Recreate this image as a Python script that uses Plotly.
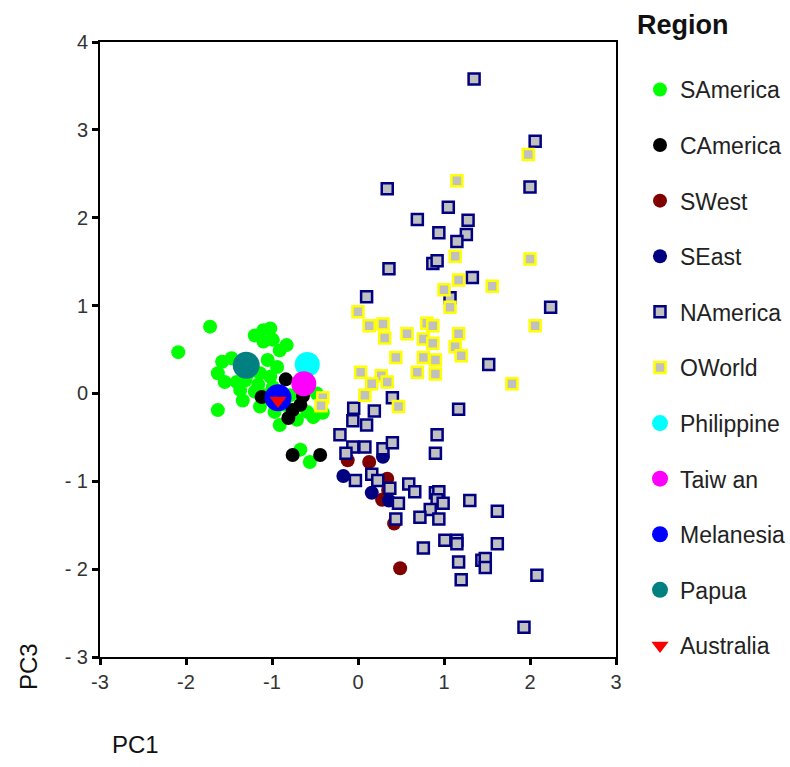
import plotly.graph_objects as go

# ---- data (PC1, PC3) ----
samerica_x = [-2.09, -1.72, -1.20, -1.10, -1.02, -0.99, -1.10, -0.83, -0.91, -1.58, -1.47, -1.05, -1.63, -1.55,
              -1.41, -1.34, -1.63, -1.14, -0.91, -0.59, -0.52, -1.14, -1.02, -0.99, -0.94, -1.28, -1.37, -0.48,
              -0.41, -0.71, -0.56, -0.67, -1.26, -1.20, -1.08, -0.85, -0.97, -0.79, -1.31, -1.16]
samerica_y = [0.47, 0.76, 0.66, 0.72, 0.74, 0.61, 0.59, 0.55, 0.49, 0.36, 0.40, 0.38, 0.23, 0.13,
              0.13, -0.08, -0.19, -0.15, -0.36, -0.21, -0.27, 0.23, 0.19, 0.07, 0.30, 0.23, 0.04, 0.00,
              -0.22, -0.30, -0.78, -0.64, 0.38, 0.02, -0.02, -0.13, -0.21, -0.02, 0.15, 0.10]

camerica_x = [-0.84, -1.12, -0.81, -0.67, -0.76, -0.64, -0.76, -0.44, -0.91]
camerica_y = [0.16, -0.04, -0.28, -0.13, -0.19, -0.03, -0.70, -0.70, -0.02]

swest_x = [-0.12, 0.13, 0.34, 0.35, 0.28, 0.42, 0.49]
swest_y = [-0.76, -0.78, -0.97, -1.10, -1.21, -1.48, -1.99]

seast_x = [0.29, -0.17, 0.16, 0.36]
seast_y = [-0.72, -0.94, -1.13, -1.22]

namerica_x = [1.35, 2.06, 2.00, 0.34, 1.05, 0.69, 1.28, 0.94, 1.26, 1.15, 0.87, 0.92, 0.36, 1.33, 0.10, 1.07,
              2.24, 1.52, 0.40, -0.05, 0.19, 1.17, -0.06, 0.10, -0.21, 0.92, -0.06, 0.08, 0.29, 0.40, -0.14,
              0.90, 0.16, -0.03, 0.23, 0.37, 0.59, 0.66, 0.47, 0.90, 0.94, 0.92, 0.99, 1.30, 1.62, 0.84, 0.72,
              0.94, 0.44, 1.01, 1.15, 1.15, 0.76, 1.62, 1.17, 1.44, 1.48, 1.48, 1.20, 2.08, 1.93]
namerica_y = [3.58, 2.87, 2.35, 2.33, 2.12, 1.98, 1.97, 1.83, 1.81, 1.73, 1.48, 1.51, 1.42, 1.32, 1.10, 1.09,
              0.98, 0.33, -0.05, -0.17, -0.20, -0.18, -0.31, -0.36, -0.47, -0.47, -0.61, -0.61, -0.63, -0.56, -0.68,
              -0.68, -0.92, -0.99, -0.99, -1.08, -1.03, -1.12, -1.25, -1.13, -1.12, -1.21, -1.25, -1.22, -1.34, -1.32, -1.41,
              -1.43, -1.43, -1.67, -1.67, -1.71, -1.76, -1.71, -1.92, -1.90, -1.88, -1.98, -2.12, -2.07, -2.66]

oworld_x = [1.98, 1.15, 1.13, 2.00, 1.17, 1.00, 1.56, 0.00, 0.13, 0.29, 0.31, 0.57, 0.80, 0.87, 1.07, 0.76,
            0.87, 1.17, 1.13, 1.20, 2.06, 0.44, 0.76, 0.90, 0.69, 0.90, 0.03, 0.27, 0.34, 0.16, 0.08, 0.47,
            1.79, -0.41, -0.43]
oworld_y = [2.72, 2.42, 1.56, 1.53, 1.29, 1.18, 1.22, 0.93, 0.77, 0.79, 0.63, 0.68, 0.80, 0.77, 0.98, 0.62,
            0.57, 0.68, 0.53, 0.43, 0.77, 0.41, 0.41, 0.38, 0.24, 0.22, 0.24, 0.20, 0.13, 0.11, -0.02, -0.15,
            0.11, -0.05, -0.14]

philippine_x, philippine_y = [-0.59], [0.33]
taiwan_x, taiwan_y = [-0.63], [0.11]
melanesia_x, melanesia_y = [-0.93], [-0.05]
papua_x, papua_y = [-1.30], [0.32]
australia_x, australia_y = [-0.93], [-0.08]

x_ticks = [-3, -2, -1, 0, 1, 2, 3]
x_tick_labels = ["-3", "-2", "-1", "0", "1", "2", "3"]
y_ticks = [-3, -2, -1, 0, 1, 2, 3, 4]
y_tick_labels = ["- 3", "- 2", "- 1", "0", "1", "2", "3", "4"]

# ---- figure ----
fig = go.Figure()

def add(name, xs, ys, symbol, size, color, line_color=None, line_width=0):
    fig.add_trace(go.Scatter(
        x=xs, y=ys, mode="markers", name=name, legendgroup=name,
        marker=dict(symbol=symbol, size=size, color=color,
                    line=dict(color=line_color or color, width=line_width)),
    ))

add("SAmerica", samerica_x, samerica_y, "circle", 14, "#00ff00")
add("CAmerica", camerica_x, camerica_y, "circle", 14, "#000000")
add("SWest", swest_x, swest_y, "circle", 14, "#800000")
add("SEast", seast_x, seast_y, "circle", 14, "#000080")
add("NAmerica", namerica_x, namerica_y, "square", 11, "#c0c0c0", "#000080", 2.5)
add("OWorld", oworld_x, oworld_y, "square", 11, "#c0c0c0", "#ffff00", 2.5)
add("Philippine", philippine_x, philippine_y, "circle", 25, "#00ffff")
add("Taiw an", taiwan_x, taiwan_y, "circle", 25, "#ff00ff")
add("Melanesia", melanesia_x, melanesia_y, "circle", 27, "#0000ff")
add("Papua", papua_x, papua_y, "circle", 27, "#008080")
add("Australia", australia_x, australia_y, "triangle-down", 15, "#ff0000")

axis_common = dict(
    showgrid=False, zeroline=False, showline=True, linecolor="black", linewidth=2,
    mirror=True, ticks="outside", ticklen=6, tickwidth=3, tickcolor="black",
    tickfont=dict(family="Liberation Sans, Arial", size=20, color="#333333"),
)

fig.update_xaxes(range=[-3, 3], tickvals=x_ticks, ticktext=x_tick_labels, **axis_common)
fig.update_yaxes(range=[-3, 4], tickvals=y_ticks, ticktext=y_tick_labels, **axis_common)

fig.update_layout(
    width=790, height=767,
    margin=dict(l=100, r=174, t=42, b=110),
    plot_bgcolor="white", paper_bgcolor="white",
    font=dict(family="Liberation Sans, Arial", color="#222222"),
    legend=dict(
        xref="container", yref="container",
        x=640 / 790, y=1 - 68 / 767, xanchor="left", yanchor="top",
        font=dict(size=23, color="#222222"),
        tracegroupgap=22.7, itemsizing="trace", maxheight=740,
        bgcolor="rgba(0,0,0,0)",
    ),
    annotations=[
        dict(text="<b>Region</b>", x=(635 - 100) / 516, y=(657 - 25) / 615, xref="paper", yref="paper",
             showarrow=False, font=dict(size=27, color="#111111"), xanchor="left", yanchor="middle"),
        dict(text="PC3", x=-0.14, y=-0.015, xref="paper", yref="paper", textangle=-90,
             showarrow=False, font=dict(size=24, color="#111111"), xanchor="center", yanchor="middle"),
        dict(text="PC1", x=0.068, y=-0.143, xref="paper", yref="paper",
             showarrow=False, font=dict(size=24, color="#111111"), xanchor="center", yanchor="middle"),
    ],
)

fig.write_html("out.html")
